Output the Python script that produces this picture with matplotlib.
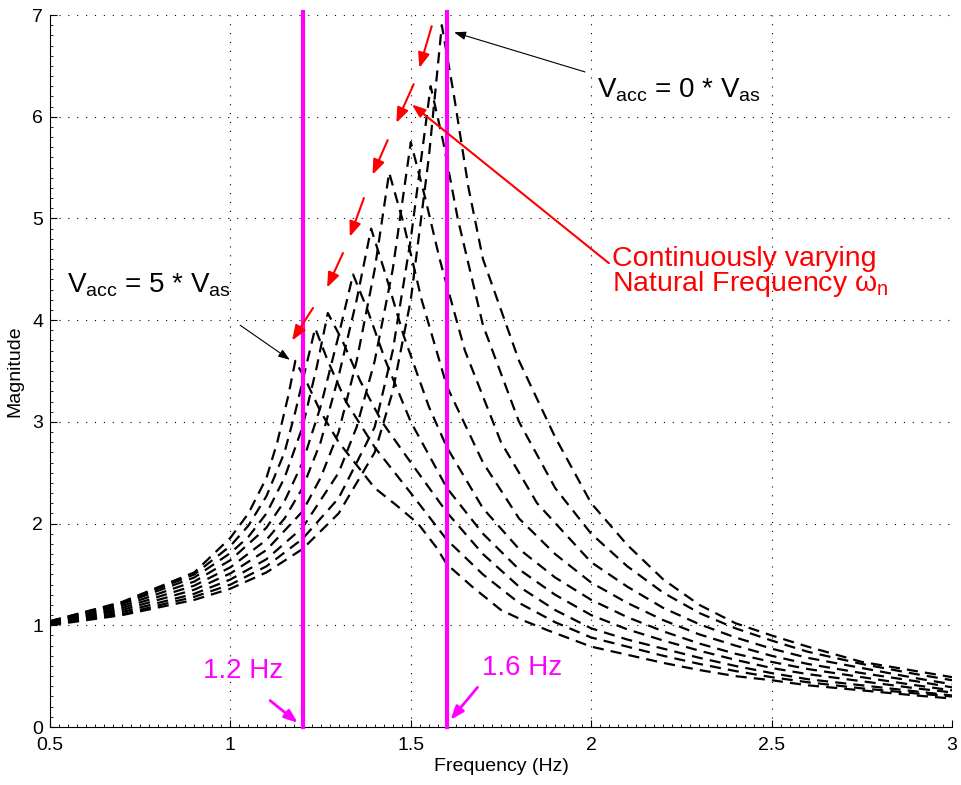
import matplotlib.pyplot as plt
from matplotlib.ticker import MultipleLocator, FuncFormatter

# Frequency response, one curve per accumulator volume (Vacc = 0 ... 5 * Vas)
tail_freq = [2.0, 2.1, 2.2, 2.3, 2.4, 2.5, 2.6, 2.75, 2.9, 3.0]

freq_0 = [0.5, 0.7, 0.9, 1.0, 1.1, 1.2, 1.3, 1.4, 1.45, 1.5, 1.55, 1.586, 1.62, 1.66, 1.7, 1.8, 1.9] + tail_freq
mag_0 = [1.00, 1.10, 1.25, 1.36, 1.52, 1.75, 2.10, 2.70, 3.30, 4.20, 5.60, 6.90, 6.20, 5.30, 4.60, 3.60, 2.85,
         2.20, 1.79, 1.45, 1.20, 1.02, 0.90, 0.79, 0.64, 0.55, 0.49]

freq_1 = [0.5, 0.7, 0.9, 1.0, 1.1, 1.2, 1.3, 1.4, 1.45, 1.5, 1.555, 1.59, 1.63, 1.7, 1.8, 1.9] + tail_freq
mag_1 = [1.01, 1.11, 1.28, 1.40, 1.58, 1.85, 2.25, 2.95, 3.70, 4.80, 6.30, 5.75, 5.00, 3.95, 3.00, 2.35,
         1.90, 1.58, 1.32, 1.12, 0.97, 0.85, 0.74, 0.62, 0.52, 0.46]

freq_2 = [0.5, 0.7, 0.9, 1.0, 1.1, 1.2, 1.3, 1.35, 1.4, 1.45, 1.50, 1.54, 1.58, 1.65, 1.75, 1.85] + tail_freq
mag_2 = [1.01, 1.13, 1.31, 1.45, 1.65, 1.96, 2.50, 2.95, 3.60, 4.50, 5.75, 5.20, 4.60, 3.70, 2.80, 2.20,
         1.62, 1.38, 1.17, 1.01, 0.88, 0.77, 0.68, 0.58, 0.48, 0.42]

freq_3 = [0.5, 0.7, 0.9, 1.0, 1.1, 1.2, 1.25, 1.3, 1.35, 1.4, 1.44, 1.48, 1.53, 1.6, 1.7, 1.8, 1.9] + tail_freq
mag_3 = [1.02, 1.15, 1.35, 1.51, 1.74, 2.12, 2.45, 2.90, 3.60, 4.50, 5.45, 4.95, 4.20, 3.35, 2.60, 2.05, 1.70,
         1.42, 1.22, 1.05, 0.91, 0.80, 0.70, 0.62, 0.53, 0.45, 0.39]

freq_4 = [0.5, 0.7, 0.9, 1.0, 1.1, 1.15, 1.2, 1.25, 1.3, 1.35, 1.39, 1.43, 1.48, 1.55, 1.6, 1.7, 1.8, 1.9] + tail_freq
mag_4 = [1.02, 1.17, 1.39, 1.57, 1.84, 2.05, 2.35, 2.80, 3.45, 4.20, 4.90, 4.45, 3.85, 3.15, 2.75, 2.15, 1.75, 1.47,
         1.25, 1.08, 0.94, 0.82, 0.72, 0.64, 0.57, 0.49, 0.41, 0.36]

freq_5 = [0.5, 0.7, 0.9, 1.0, 1.1, 1.15, 1.2, 1.25, 1.3, 1.34, 1.38, 1.43, 1.5, 1.6, 1.7, 1.8, 1.9] + tail_freq
mag_5 = [1.03, 1.19, 1.43, 1.64, 1.96, 2.22, 2.60, 3.15, 3.85, 4.45, 4.10, 3.60, 3.00, 2.35, 1.90, 1.55, 1.30,
         1.10, 0.96, 0.85, 0.75, 0.66, 0.58, 0.52, 0.45, 0.38, 0.34]

freq_6 = [0.5, 0.7, 0.9, 1.0, 1.05, 1.1, 1.15, 1.2, 1.24, 1.27, 1.31, 1.36, 1.42, 1.5, 1.6, 1.7, 1.8, 1.9] + tail_freq
mag_6 = [1.03, 1.21, 1.47, 1.71, 1.87, 2.10, 2.45, 2.95, 3.55, 4.07, 3.80, 3.40, 3.00, 2.60, 2.11, 1.70, 1.38, 1.15,
         0.97, 0.86, 0.77, 0.68, 0.60, 0.53, 0.47, 0.41, 0.35, 0.31]

freq_7 = [0.5, 0.7, 0.9, 1.0, 1.05, 1.1, 1.15, 1.18, 1.21, 1.235, 1.27, 1.32, 1.4, 1.5, 1.6, 1.7, 1.8, 1.9] + tail_freq
mag_7 = [1.04, 1.22, 1.50, 1.78, 1.98, 2.27, 2.70, 3.10, 3.55, 3.92, 3.60, 3.20, 2.75, 2.30, 1.84, 1.50, 1.22, 1.03,
         0.88, 0.79, 0.70, 0.62, 0.55, 0.49, 0.44, 0.38, 0.33, 0.30]

freq_8 = [0.5, 0.7, 0.9, 0.95, 1.0, 1.05, 1.1, 1.13, 1.16, 1.18, 1.21, 1.25, 1.3, 1.4, 1.46, 1.52, 1.57, 1.6,
          1.67, 1.75, 1.81, 1.88] + tail_freq
mag_8 = [1.04, 1.23, 1.52, 1.69, 1.86, 2.10, 2.45, 2.80, 3.25, 3.60, 3.40, 3.10, 2.80, 2.35, 2.18, 2.00, 1.77, 1.60,
         1.38, 1.15, 1.05, 0.95, 0.79, 0.71, 0.63, 0.56, 0.50, 0.46, 0.41, 0.36, 0.31, 0.28]

curves = [(freq_0, mag_0), (freq_1, mag_1), (freq_2, mag_2), (freq_3, mag_3), (freq_4, mag_4),
          (freq_5, mag_5), (freq_6, mag_6), (freq_7, mag_7), (freq_8, mag_8)]

marker_freqs = [1.2, 1.6]
marker_labels = ["1.2 Hz", "1.6 Hz"]

plt.rcParams["font.family"] = ["Liberation Sans", "DejaVu Sans"]
plt.rcParams["mathtext.fontset"] = "custom"
plt.rcParams["mathtext.rm"] = "Liberation Sans"
plt.rcParams["mathtext.it"] = "Liberation Sans"

fig = plt.figure(figsize=(9.62, 7.85), dpi=100)
ax = fig.add_axes([50 / 962, 58 / 785, 902 / 962, 712 / 785])

for f, m in curves:
    ax.plot(f, m, color="black", lw=1.6, ls=(0, (5, 3.2)))

for fm in marker_freqs:
    ax.plot([fm, fm], [0, 7.03], color="#ff00ff", lw=3.0, clip_on=False, zorder=3)

ax.set_xlim(0.5, 3)
ax.set_ylim(0, 7)
ax.xaxis.set_major_locator(MultipleLocator(0.5))
ax.yaxis.set_major_locator(MultipleLocator(1))
ax.xaxis.set_minor_locator(MultipleLocator(0.025))
ax.yaxis.set_minor_locator(MultipleLocator(0.1))
ax.xaxis.set_major_formatter(FuncFormatter(lambda v, p: "%g" % v))
ax.yaxis.set_major_formatter(FuncFormatter(lambda v, p: "%g" % v))
ax.tick_params(which="both", direction="in", top=False, right=False, labelsize=14)
ax.tick_params(axis="x", which="major", length=5, pad=7)
ax.tick_params(axis="y", which="major", length=5, pad=5)
ax.tick_params(which="minor", length=2.5)
ax.grid(True, which="major", color="black", ls=(0, (1, 7)), lw=0.8)
ax.spines["top"].set_visible(False)
ax.spines["right"].set_visible(False)
ax.set_xlabel("Frequency (Hz)", fontsize=14, labelpad=3)
ax.set_ylabel("Magnitude", fontsize=14, labelpad=6)

# Black annotations for the two ends of the family
ax.annotate("", xy=(1.62, 6.83), xytext=(1.983, 6.44),
            arrowprops=dict(arrowstyle="-|>,head_length=0.7,head_width=0.25", color="black", lw=0.8,
                            shrinkA=0, shrinkB=0))
ax.text(2.017, 6.19, r"$\mathregular{V_{acc}}$ = 0 * $\mathregular{V_{as}}$", fontsize=20,
        ha="left", va="baseline")
ax.annotate("", xy=(1.165, 3.61), xytext=(1.027, 3.95),
            arrowprops=dict(arrowstyle="-|>,head_length=0.7,head_width=0.25", color="black", lw=0.8,
                            shrinkA=0, shrinkB=0))
ax.text(0.547, 4.27, r"$\mathregular{V_{acc}}$ = 5 * $\mathregular{V_{as}}$", fontsize=20,
        ha="left", va="baseline")

# Red arrows following the shift of the resonance peak
red_arrows = [((1.558, 6.89), (1.524, 6.48)), ((1.508, 6.32), (1.460, 5.94)),
              ((1.436, 5.77), (1.394, 5.43)), ((1.370, 5.20), (1.331, 4.82)),
              ((1.312, 4.66), (1.268, 4.32)), ((1.229, 4.12), (1.171, 3.80))]
for (x0, y0), (x1, y1) in red_arrows:
    ax.annotate("", xy=(x1, y1), xytext=(x0, y0),
                arrowprops=dict(arrowstyle="-|>,head_length=0.9,head_width=0.35", color="red", lw=1.5,
                                shrinkA=0, shrinkB=0))

ax.annotate("", xy=(1.503, 6.12), xytext=(2.049, 4.56),
            arrowprops=dict(arrowstyle="-|>,head_length=0.8,head_width=0.3", color="red", lw=1.5,
                            shrinkA=0, shrinkB=0))
ax.text(2.058, 4.287, "Continuously varying\nNatural Frequency " + r"$\mathregular{\omega_n}$",
        fontsize=20.5, color="red", ha="left", va="baseline", linespacing=0.86)

# Marker frequencies
ax.annotate("", xy=(1.187, 0.04), xytext=(1.11, 0.26),
            arrowprops=dict(arrowstyle="-|>,head_length=0.8,head_width=0.3", color="#ff00ff", lw=2,
                            shrinkA=0, shrinkB=0))
ax.text(0.925, 0.48, marker_labels[0], fontsize=20, color="#ff00ff", va="baseline")
ax.annotate("", xy=(1.61, 0.07), xytext=(1.685, 0.39),
            arrowprops=dict(arrowstyle="-|>,head_length=0.8,head_width=0.3", color="#ff00ff", lw=2,
                            shrinkA=0, shrinkB=0))
ax.text(1.697, 0.51, marker_labels[1], fontsize=20, color="#ff00ff", va="baseline")

fig.savefig("out.png", dpi=100)
